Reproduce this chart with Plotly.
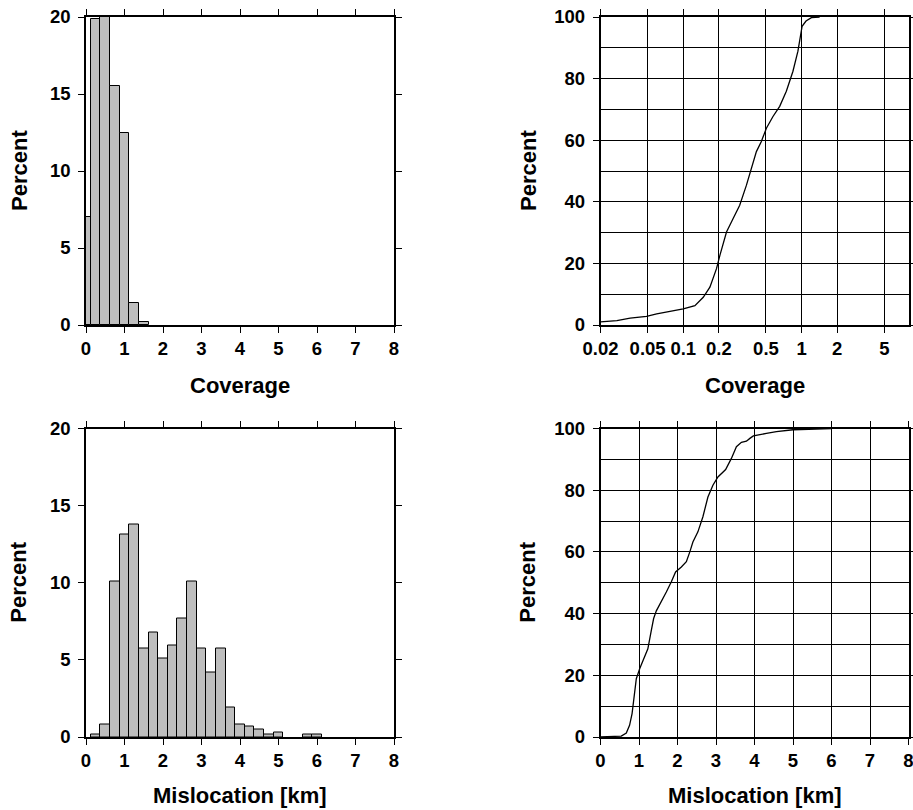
import plotly.graph_objects as go

# Coverage histogram (percent per 0.25-wide bin, bin centres)
cov_bins = [0.0, 0.25, 0.5, 0.75, 1.0, 1.25, 1.5]
cov_pct = [7.0, 19.9, 20.0, 15.5, 12.5, 1.4, 0.2]

# Cumulative coverage distribution
cov_cdf_x = [0.02, 0.0275, 0.0356, 0.049, 0.0597, 0.0773, 0.1, 0.1255, 0.1476,
             0.168, 0.191, 0.204, 0.232, 0.264, 0.30, 0.342, 0.389, 0.415, 0.457,
             0.504, 0.573, 0.653, 0.743, 0.845, 0.931, 1.01, 1.09, 1.21, 1.42]
cov_cdf_y = [1.0, 1.4, 2.2, 2.8, 3.6, 4.3, 5.2, 6.3, 9.0, 12.3, 18.3, 22.6, 30.2,
             34.6, 38.9, 45.4, 53.0, 56.3, 59.6, 63.9, 67.7, 71.0, 75.9, 82.4,
             88.9, 97.0, 98.7, 99.8, 100.0]

# Mislocation histogram (percent per 0.25 km bin, bin centres)
mis_bins = [0.25, 0.5, 0.75, 1.0, 1.25, 1.5, 1.75, 2.0, 2.25, 2.5, 2.75, 3.0,
            3.25, 3.5, 3.75, 4.0, 4.25, 4.5, 4.75, 5.0, 5.75, 6.0]
mis_pct = [0.15, 0.84, 10.1, 13.1, 13.8, 5.73, 6.79, 5.06, 5.9, 7.67, 10.1, 5.73,
           4.15, 5.73, 1.9, 0.84, 0.67, 0.5, 0.15, 0.32, 0.15, 0.15]

# Cumulative mislocation distribution
mis_cdf_x = [0.0, 0.54, 0.67, 0.755, 0.82, 0.87, 0.93, 1.02, 1.15, 1.23, 1.32,
             1.38, 1.45, 1.58, 1.71, 1.84, 1.95, 2.1, 2.23, 2.32, 2.40, 2.53,
             2.66, 2.79, 2.92, 3.05, 3.25, 3.40, 3.53, 3.66, 3.79, 3.88, 3.97,
             4.31, 4.57, 5.0, 5.61, 6.0]
mis_cdf_y = [0.0, 0.3, 1.3, 3.8, 7.6, 13.0, 18.9, 22.2, 25.9, 28.6, 34.6, 38.4,
             40.9, 43.8, 47.0, 50.3, 53.5, 55.1, 56.8, 60.0, 63.2, 66.5, 71.4,
             77.8, 81.6, 84.3, 86.7, 90.3, 94.1, 95.5, 95.9, 96.8, 97.6, 98.4,
             99.0, 99.6, 99.8, 100.0]

log_ticks = [0.02, 0.05, 0.1, 0.2, 0.5, 1, 2, 5]
log_text = ["0.02", "0.05", "0.1", "0.2", "0.5", "1", "2", "5"]

W, H = 913, 810
FONT = "Liberation Sans, Arial, Helvetica, sans-serif"
BAR_FILL = "#bebebe"

fig = go.Figure()

fig.add_trace(go.Bar(x=cov_bins, y=cov_pct, width=0.25, marker=dict(color=BAR_FILL, line=dict(color="black", width=1)),
                     xaxis="x", yaxis="y", showlegend=False))
fig.add_trace(go.Scatter(x=cov_cdf_x, y=cov_cdf_y, mode="lines", line=dict(color="black", width=1.3),
                         xaxis="x2", yaxis="y2", showlegend=False))
fig.add_trace(go.Bar(x=mis_bins, y=mis_pct, width=0.25, marker=dict(color=BAR_FILL, line=dict(color="black", width=1)),
                     xaxis="x3", yaxis="y3", showlegend=False))
fig.add_trace(go.Scatter(x=mis_cdf_x, y=mis_cdf_y, mode="lines", line=dict(color="black", width=1.3),
                         xaxis="x4", yaxis="y4", showlegend=False))

# panel extents in pixels
LX = (86, 394)
RX = (600.5, 908.5)
TY = (17, 325)
BY = (428.5, 737)


def xd(p):
    return [p[0] / W, p[1] / W]


def yd(p):
    return [1 - p[1] / H, 1 - p[0] / H]


common = dict(showline=True, linecolor="black", linewidth=1.6, mirror="allticks",
              ticks="outside", ticklen=6, tickwidth=1.2, tickcolor="black",
              zeroline=False, automargin=False, ticklabeloverflow="allow",
              tickfont=dict(family=FONT, size=18.5, color="black", weight="bold"),
              fixedrange=True)
grid = dict(showgrid=True, gridcolor="black", gridwidth=1)
nogrid = dict(showgrid=False)
minor10 = dict(dtick=10, showgrid=True, gridcolor="black", gridwidth=1, ticks="")

fig.update_layout(
    template="none",
    width=W, height=H, margin=dict(l=0, r=0, t=0, b=0, autoexpand=False),
    paper_bgcolor="white", plot_bgcolor="white", bargap=0,
    font=dict(family=FONT, color="black"),
    xaxis=dict(domain=xd(LX), anchor="y", range=[0, 8], dtick=1, ticklabelstandoff=0, **nogrid, **common),
    yaxis=dict(domain=yd(TY), anchor="x", range=[0, 20], dtick=5, ticklabelstandoff=4, **nogrid, **common),
    xaxis2=dict(domain=xd(RX), anchor="y2", type="log", range=[-1.69897, 0.90309],
                tickvals=log_ticks, ticktext=log_text, ticklabelstandoff=0, **grid, **common),
    yaxis2=dict(domain=yd(TY), anchor="x2", range=[0, 100], dtick=20, ticklabelstandoff=4,
                minor=minor10, **grid, **common),
    xaxis3=dict(domain=xd(LX), anchor="y3", range=[0, 8], dtick=1, ticklabelstandoff=0, **nogrid, **common),
    yaxis3=dict(domain=yd(BY), anchor="x3", range=[0, 20], dtick=5, ticklabelstandoff=4, **nogrid, **common),
    xaxis4=dict(domain=xd(RX), anchor="y4", range=[0, 8], dtick=1, ticklabelstandoff=0, **grid, **common),
    yaxis4=dict(domain=yd(BY), anchor="x4", range=[0, 100], dtick=20, ticklabelstandoff=4,
                minor=minor10, **grid, **common),
)

title_font = dict(family=FONT, size=22, color="black", weight="bold")


def label(text, xpx, ypx, angle=0):
    fig.add_annotation(text=text, x=xpx / W, y=1 - ypx / H, xref="paper", yref="paper",
                       showarrow=False, textangle=angle, xanchor="center", yanchor="middle",
                       font=title_font)


label("Coverage", (LX[0] + LX[1]) / 2, 385)
label("Coverage", (RX[0] + RX[1]) / 2, 385)
label("Mislocation [km]", (LX[0] + LX[1]) / 2, 795)
label("Mislocation [km]", (RX[0] + RX[1]) / 2, 795)
label("Percent", 19, (TY[0] + TY[1]) / 2, -90)
label("Percent", 528, (TY[0] + TY[1]) / 2, -90)
label("Percent", 19, (BY[0] + BY[1]) / 2, -90)
label("Percent", 528, (BY[0] + BY[1]) / 2, -90)

fig.write_html("out.html")
